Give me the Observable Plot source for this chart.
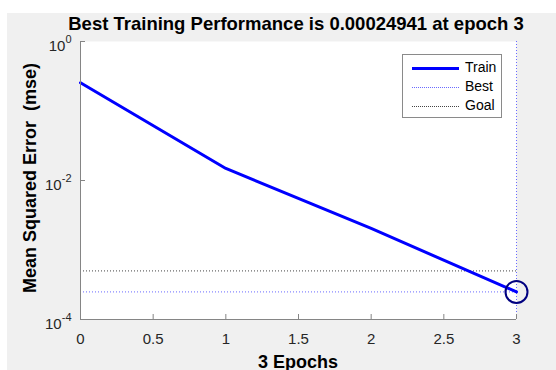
<!DOCTYPE html>
<html>
<head>
<meta charset="utf-8">
<script src="https://cdn.jsdelivr.net/npm/d3@7"></script>
<script src="https://cdn.jsdelivr.net/npm/@observablehq/plot@0.6"></script>
<style>
  body { margin:0; background:#fff; font-family:"Liberation Sans", Arial, sans-serif; }
  #fig { position:absolute; left:7px; top:13px; width:549px; height:357px; background:#f0f0f0; }
  #chart { position:absolute; left:0; top:0; }
  .lbl { position:absolute; font-weight:bold; color:#000; white-space:nowrap; line-height:1.15; }
  #legend { position:absolute; left:402px; top:54px; width:98px; height:62px; background:#fff; border:1px solid #8a8a8a; font-size:14px; color:#000; }
  .row { position:absolute; left:9px; height:19px; width:90px; }
  .sw { position:absolute; left:0; width:47px; top:9px; }
  .row span { position:absolute; left:53px; top:0px; }
</style>
</head>
<body>
<div id="fig"></div>
<div id="chart"></div>
<div id="title" class="lbl" style="font-size:18.5px;left:0;width:592px;text-align:center;top:13px;"></div>
<div id="ylab" class="lbl" style="font-size:18px;left:30px;top:178px;transform:translate(-50%,-50%) rotate(-90deg);">Mean Squared Error&nbsp; (mse)</div>
<div id="xlab" class="lbl" style="font-size:18px;left:298px;top:352px;transform:translateX(-50%);">3 Epochs</div>
<div id="legend">
  <div class="row" style="top:4px"><div class="sw" style="border-top:3px solid #0000ff;top:8px"></div><span>Train</span></div>
  <div class="row" style="top:23px"><div class="sw" style="border-top:1px dotted #6a6aff"></div><span>Best</span></div>
  <div class="row" style="top:42px"><div class="sw" style="border-top:1px dotted #444"></div><span>Goal</span></div>
</div>
<script>
const epochs = [0, 1, 2, 3];
const trainMse = [0.255, 0.0149, 0.00204, 0.00024941];
const bestEpoch = 3;
const bestMse = 0.00024941;
const goalMse = 0.0005;
const xTicks = [0, 0.5, 1, 1.5, 2, 2.5, 3];
const yTicks = [1e-4, 1e-2, 1];
const yTickLabels = ["10^-4", "10^-2", "10^0"];

document.getElementById("title").textContent =
  "Best Training Performance is " + bestMse + " at epoch " + bestEpoch;

const train = epochs.map((e, i) => ({epoch: e, mse: trainMse[i]}));
const axisColor = "#858585";

const chart = Plot.plot({
  width: 556, height: 370,
  marginLeft: 80, marginRight: 40, marginTop: 41, marginBottom: 51,
  style: {background: "transparent", fontFamily: "'Liberation Sans', Arial, sans-serif", fontSize: "15px", color: "#262626"},
  x: {domain: [0, 3]},
  y: {type: "log", domain: [1e-4, 1]},
  marks: [
    Plot.frame({fill: "white", stroke: null}),
    Plot.ruleY([goalMse], {stroke: "#444", strokeDasharray: "1 2"}),
    Plot.ruleY([bestMse], {stroke: "#6a6aff", strokeDasharray: "1 2"}),
    Plot.ruleX([bestEpoch], {stroke: "#6a6aff", strokeDasharray: "1 2"}),
    Plot.line(train, {x: "epoch", y: "mse", stroke: "#0000ff", strokeWidth: 3}),
    Plot.dot([{epoch: bestEpoch, mse: bestMse}], {x: "epoch", y: "mse", r: 11, stroke: "#000080", strokeWidth: 2, fill: "none"}),
    Plot.axisX({ticks: xTicks, tickSize: -5, tickPadding: 19, label: null, stroke: axisColor, tickFormat: d => String(d)}),
    Plot.axisY({ticks: yTicks, tickSize: -5, tickPadding: 14, label: null, stroke: axisColor,
      tickFormat: d => yTickLabels[yTicks.indexOf(d)]}),
    Plot.ruleX([0], {stroke: axisColor}),
    Plot.ruleY([1e-4], {stroke: axisColor})
  ]
});
document.getElementById("chart").append(chart);

// render exponent as superscript
chart.querySelectorAll("g[aria-label='y-axis tick label'] text").forEach(t => {
  const s = t.textContent;
  const [base, exp] = s.split("^");
  t.textContent = "";
  const ns = "http://www.w3.org/2000/svg";
  const a = document.createElementNS(ns, "tspan");
  a.textContent = base;
  a.setAttribute("dy", "5");
  const b = document.createElementNS(ns, "tspan");
  b.textContent = exp;
  b.setAttribute("dy", "-8");
  b.setAttribute("font-size", "11");
  t.append(a, b);
});
</script>
</body>
</html>
